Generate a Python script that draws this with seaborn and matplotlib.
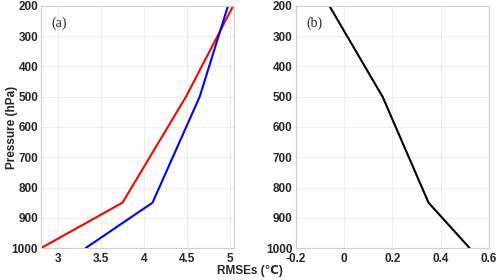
import matplotlib
matplotlib.use('Agg')
import matplotlib.pyplot as plt
import pandas as pd
import seaborn as sns

PRESSURE = [1000, 850, 500, 200]
RMSE_RED = [2.80, 3.75, 4.49, 5.04]
RMSE_BLUE = [3.32, 4.10, 4.65, 4.98]
RMSE_DIFF = [0.52, 0.35, 0.16, -0.06]

A_TICKS = [3, 3.5, 4, 4.5, 5]
B_TICKS = [-0.2, 0, 0.2, 0.4, 0.6]
Y_TICKS = [200, 300, 400, 500, 600, 700, 800, 900, 1000]

sns.set_style('whitegrid')
plt.rcParams['font.family'] = ['Liberation Sans', 'DejaVu Sans']

df = pd.DataFrame({'p': PRESSURE, 'red': RMSE_RED, 'blue': RMSE_BLUE, 'diff': RMSE_DIFF})

fig = plt.figure(figsize=(5, 2.8), dpi=100)
ax_a = fig.add_axes([0.082, 0.114, 0.386, 0.865])
ax_b = fig.add_axes([0.591, 0.114, 0.387, 0.865])

sns.lineplot(data=df, x='red', y='p', sort=False, color='red', lw=1.5, ax=ax_a)
sns.lineplot(data=df, x='blue', y='p', sort=False, color='blue', lw=1.5, ax=ax_a)
sns.lineplot(data=df, x='diff', y='p', sort=False, color='black', lw=1.5, ax=ax_b)

ax_a.set_xlim(2.8, 5.05)
ax_a.set_xticks(A_TICKS)
ax_a.set_xticklabels(['3', '3.5', '4', '4.5', '5'])
ax_b.set_xlim(-0.2, 0.6)
ax_b.set_xticks(B_TICKS)
ax_b.set_xticklabels(['-0.2', '0', '0.2', '0.4', '0.6'])

for ax, tag in [(ax_a, '(a)'), (ax_b, '(b)')]:
    ax.set_ylim(1000, 200)
    ax.set_yticks(Y_TICKS)
    ax.set_xlabel('')
    ax.set_ylabel('')
    ax.grid(True, color='#ebebeb', lw=0.6)
    for s in ax.spines.values():
        s.set_color('#cfcfcf')
        s.set_linewidth(0.8)
    ax.tick_params(direction='in', length=3, width=0.6, color='#bbbbbb',
                   labelsize=8.5, pad=2)
    ax.tick_params(axis='x', pad=3.5)
    for lab in ax.get_xticklabels() + ax.get_yticklabels():
        lab.set_fontweight('bold')
        lab.set_color('#262626')
    ax.text(0.055, 0.915, tag, transform=ax.transAxes, fontsize=10,
            family='Liberation Serif', color='#262626')

fig.text(0.5, 0.022, 'RMSEs (℃)', ha='center', fontsize=8.5, fontweight='bold',
         color='#262626')
fig.text(0.012, 0.545, 'Pressure (hPa)', rotation=90, va='center', fontsize=8.5,
         fontweight='bold', color='#262626')

fig.savefig('out.png', dpi=100)
